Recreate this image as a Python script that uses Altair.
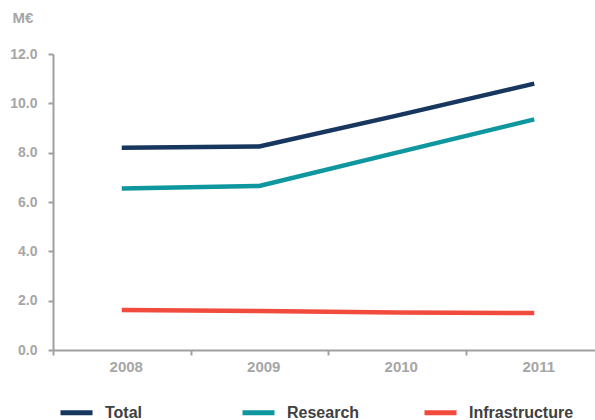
import altair as alt
import pandas as pd

years = ["2008", "2009", "2010", "2011"]
series = ["Total", "Research", "Infrastructure"]
total = [8.2, 8.25, 9.5, 10.8]
research = [6.55, 6.65, 8.0, 9.35]
infrastructure = [1.62, 1.58, 1.52, 1.5]
colors = ["#17375E", "#0E979E", "#F04B3C"]
y_ticks = [0, 2, 4, 6, 8, 10, 12]

rows = []
for s, vals in zip(series, [total, research, infrastructure]):
    for yr, v in zip(years, vals):
        rows.append({"year": yr, "value": v, "series": s})
df = pd.DataFrame(rows)

gray = "#A6A6A6"
axis_line = "#A0A0A0"
font = "Liberation Sans"

chart = alt.Chart(df).mark_line(strokeWidth=4.5, strokeCap="butt").encode(
    x=alt.X(
        "year:N",
        sort=years,
        scale=alt.Scale(type="band", paddingInner=0, paddingOuter=0, range=[0, 550]),
        axis=alt.Axis(
            title=None,
            tickBand="extent",
            labelAngle=0,
            labelFontSize=15,
            labelPadding=4,
            labelOffset=4,
            labelBaseline="top",
        ),
    ),
    y=alt.Y(
        "value:Q",
        scale=alt.Scale(domain=[0, 12], nice=False, zero=True),
        axis=alt.Axis(
            values=y_ticks,
            format=".1f",
            title="M€",
            titleAngle=0,
            titleX=-41,
            titleY=-32,
            titleAlign="left",
            titleBaseline="alphabetic",
            titleFontSize=15,
            titleFontWeight="bold",
            titleColor=gray,
            titleFont=font,
            labelFontSize=14,
            labelPadding=11,
        ),
    ),
    color=alt.Color(
        "series:N",
        sort=series,
        scale=alt.Scale(domain=series, range=colors),
        legend=alt.Legend(
            title=None,
            orient="none",
            legendX=5,
            legendY=340,
            direction="horizontal",
            columns=3,
            gridAlign="all",
            columnPadding=22,
            symbolType="stroke",
            symbolSize=1024,
            symbolStrokeWidth=5,
            labelOffset=10,
            labelFontSize=16,
            labelFontWeight="bold",
            labelColor="#404040",
            labelFont=font,
            labelLimit=300,
            padding=0,
        ),
    ),
).properties(
    width=542,
    height=296,
    autosize=alt.AutoSizeParams(type="none"),
    padding={"left": 53, "top": 54, "right": 0, "bottom": 70},
).configure_view(
    stroke=None
).configure_axis(
    grid=False,
    domainColor=axis_line,
    domainWidth=2,
    tickColor=axis_line,
    tickWidth=2,
    tickSize=5,
    labelColor=gray,
    labelFont=font,
    labelFontWeight="bold",
)

chart.save("out.html", embed_options={"renderer": "svg", "actions": False})
